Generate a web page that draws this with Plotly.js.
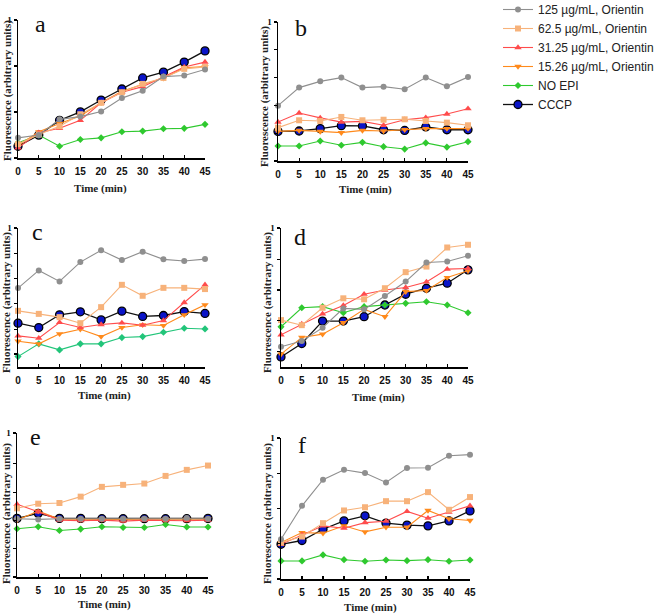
<!DOCTYPE html>
<html>
<head>
<meta charset="utf-8">
<script src="https://cdn.plot.ly/plotly-3.0.1.min.js"></script>
<style>
  html, body { margin: 0; padding: 0; background: #fff; }
  #chart { width: 655px; height: 614px; }
</style>
</head>
<body>
<div id="chart"></div>
<script>
// Sampling times (min)
const time = [0, 5, 10, 15, 20, 25, 30, 35, 40, 45];

// Series labels (legend order)
const seriesNames = ['125 µg/mL, Orientin', '62.5 µg/mL, Orientin', '31.25 µg/mL, Orientin', '15.26 µg/mL, Orientin', 'NO EPI', 'CCCP'];

// Panel a
const a125  = [0.146, 0.166, 0.280, 0.300, 0.337, 0.434, 0.488, 0.590, 0.598, 0.641];
const a62   = [0.100, 0.170, 0.230, 0.317, 0.400, 0.476, 0.537, 0.580, 0.646, 0.659];
const a31   = [0.073, 0.183, 0.215, 0.273, 0.400, 0.476, 0.517, 0.590, 0.659, 0.695];
const a15   = [0.090, 0.190, 0.250, 0.305, 0.400, 0.483, 0.532, 0.578, 0.654, 0.663];
const aNoEpi = [0.110, 0.166, 0.085, 0.134, 0.146, 0.190, 0.195, 0.212, 0.215, 0.244];
const aCccp = [0.085, 0.166, 0.273, 0.334, 0.420, 0.500, 0.580, 0.622, 0.695, 0.776];

// Panel b
const b125  = [0.398, 0.528, 0.573, 0.600, 0.528, 0.535, 0.516, 0.600, 0.537, 0.604];
const b62   = [0.240, 0.293, 0.288, 0.317, 0.293, 0.297, 0.300, 0.288, 0.276, 0.257];
const b31   = [0.280, 0.345, 0.310, 0.280, 0.285, 0.257, 0.297, 0.312, 0.338, 0.376];
const b15   = [0.213, 0.220, 0.213, 0.204, 0.220, 0.216, 0.225, 0.233, 0.233, 0.233];
const bNoEpi = [0.108, 0.108, 0.144, 0.113, 0.134, 0.103, 0.086, 0.130, 0.100, 0.139];
const bCccp = [0.213, 0.216, 0.233, 0.254, 0.252, 0.225, 0.220, 0.245, 0.225, 0.225];

// Panel c
const c125  = [0.561, 0.690, 0.610, 0.751, 0.837, 0.766, 0.827, 0.771, 0.759, 0.773];
const c62   = [0.395, 0.373, 0.349, 0.305, 0.422, 0.585, 0.505, 0.563, 0.563, 0.554];
const c31   = [0.212, 0.195, 0.310, 0.273, 0.295, 0.307, 0.290, 0.324, 0.456, 0.585];
const c15   = [0.173, 0.154, 0.227, 0.261, 0.207, 0.273, 0.293, 0.288, 0.366, 0.439];
const cNoEpi = [0.061, 0.154, 0.110, 0.154, 0.154, 0.200, 0.207, 0.239, 0.268, 0.263];
const cCccp = [0.305, 0.273, 0.366, 0.388, 0.329, 0.393, 0.354, 0.361, 0.390, 0.376];

// Panel d
const d125  = [0.128, 0.170, 0.268, 0.410, 0.403, 0.501, 0.607, 0.747, 0.754, 0.796];
const d62   = [0.324, 0.287, 0.415, 0.484, 0.477, 0.558, 0.676, 0.717, 0.857, 0.877];
const d31   = [0.216, 0.295, 0.369, 0.432, 0.514, 0.545, 0.563, 0.604, 0.698, 0.703];
const d15   = [0.074, 0.197, 0.221, 0.305, 0.403, 0.349, 0.533, 0.541, 0.636, 0.686];
const dNoEpi = [0.275, 0.415, 0.423, 0.378, 0.423, 0.435, 0.447, 0.459, 0.435, 0.378];
const dCccp = [0.054, 0.152, 0.317, 0.317, 0.349, 0.435, 0.514, 0.558, 0.595, 0.693];

// Panel e
const e125  = [0.405, 0.400, 0.405, 0.405, 0.405, 0.405, 0.405, 0.405, 0.409, 0.405];
const e62   = [0.477, 0.509, 0.514, 0.558, 0.626, 0.640, 0.649, 0.702, 0.744, 0.774];
const e31   = [0.505, 0.453, 0.395, 0.391, 0.395, 0.388, 0.395, 0.391, 0.391, 0.395];
const e15   = [0.395, 0.458, 0.402, 0.400, 0.400, 0.400, 0.402, 0.402, 0.402, 0.402];
const eNoEpi = [0.335, 0.349, 0.323, 0.333, 0.349, 0.344, 0.344, 0.365, 0.347, 0.347];
const eCccp = [0.407, 0.442, 0.407, 0.407, 0.405, 0.405, 0.405, 0.405, 0.405, 0.407];

// Panel f
const f125  = [0.282, 0.519, 0.704, 0.775, 0.751, 0.685, 0.787, 0.789, 0.874, 0.882];
const f62   = [0.258, 0.301, 0.396, 0.486, 0.509, 0.552, 0.552, 0.616, 0.491, 0.581];
const f31   = [0.246, 0.313, 0.377, 0.360, 0.400, 0.410, 0.479, 0.431, 0.474, 0.519];
const f15   = [0.258, 0.329, 0.325, 0.377, 0.334, 0.367, 0.367, 0.486, 0.427, 0.415];
const fNoEpi = [0.128, 0.128, 0.171, 0.137, 0.126, 0.135, 0.130, 0.137, 0.126, 0.135];
const fCccp = [0.246, 0.273, 0.353, 0.412, 0.448, 0.396, 0.382, 0.377, 0.412, 0.483];

const panelLetters = ['a', 'b', 'c', 'd', 'e', 'f'];
const panelSeries = [
  [a125, a62, a31, a15, aNoEpi, aCccp],
  [b125, b62, b31, b15, bNoEpi, bCccp],
  [c125, c62, c31, c15, cNoEpi, cCccp],
  [d125, d62, d31, d15, dNoEpi, dCccp],
  [e125, e62, e31, e15, eNoEpi, eCccp],
  [f125, f62, f31, f15, fNoEpi, fCccp]
];

// ---- styling and layout ----
const W = 655, H = 614;
const px = v => v / W;
const py = v => 1 - v / H;

const styles = [
  { color: '#8f8f8f', marker: { symbol: 'circle', size: 6, color: '#8f8f8f' }, width: 1.1 },
  { color: '#f7b27a', marker: { symbol: 'square', size: 6, color: '#f7b27a' }, width: 1.1 },
  { color: '#ff4c4c', marker: { symbol: 'triangle-up', size: 6.5, color: '#ff4c4c' }, width: 1.1 },
  { color: '#ff8a1c', marker: { symbol: 'triangle-down', size: 6.5, color: '#ff8a1c' }, width: 1.1 },
  { color: '#2fc92f', marker: { symbol: 'diamond', size: 5.5, color: '#2fc92f' }, width: 1.1 },
  { color: '#111111', marker: { symbol: 'circle', size: 8, color: '#0a14c8', line: { color: '#000', width: 1.3 } }, width: 1.3 }
];

// pixel frame of each panel: x of t=0, x of t=45, y of value 1, y of axis bottom
const frames = [
  { x0: 18,  x1: 205, top: 20,  bot: 158, lo: 0,      ticks: [0, 1/3, 2/3, 1] },
  { x0: 278, x1: 468, top: 22,  bot: 161, lo: 0,      ticks: [0, 0.2, 0.4, 0.6, 0.8, 1] },
  { x0: 18,  x1: 205, top: 228, bot: 367, lo: -0.015, ticks: [0.08, 0.261, 0.446, 0.629, 0.816, 1] },
  { x0: 281, x1: 468, top: 228, bot: 367, lo: -0.02,  ticks: [0.091, 0.319, 0.545, 0.771, 1] },
  { x0: 17,  x1: 208, top: 433, bot: 577, lo: 0,      ticks: [0, 0.198, 0.391, 0.588, 0.786, 1] },
  { x0: 281, x1: 470, top: 438, bot: 579, lo: 0,      ticks: [0, 0.25, 0.5, 0.75, 1] }
];

const yTitlePos = [[7, 91], [265, 97], [6, 303], [267, 303], [6, 514], [267, 514]];
const xTitlePos = [[100, 188], [365, 189], [104, 396], [378, 397], [104, 604], [370, 607]];
const letterPos = [[40, 24], [301, 28], [37, 232], [300, 237], [35, 437], [302, 445]];

const drawOrder = [5, 4, 3, 2, 1, 0];
const traces = [];
const layout = {
  width: W, height: H,
  margin: { l: 0, r: 0, t: 0, b: 0, autoexpand: false },
  paper_bgcolor: '#fff', plot_bgcolor: 'rgba(0,0,0,0)',
  showlegend: true,
  legend: {
    x: px(498), y: py(-5), xanchor: 'left', yanchor: 'top',
    traceorder: 'reversed',
    bgcolor: 'rgba(0,0,0,0)',
    font: { family: 'Liberation Sans, Arial, sans-serif', size: 12, color: '#222' },
    itemwidth: 30
  },
  annotations: []
};

frames.forEach((fr, p) => {
  const n = p === 0 ? '' : String(p + 1);
  const xa = 'x' + n, ya = 'y' + n;
  drawOrder.forEach(s => {
    const st = styles[s];
    let col = st.color, mk = Object.assign({}, st.marker);
    if (p === 2 && s === 4) { col = '#22c57a'; mk.color = '#22c57a'; }
    traces.push({
      type: 'scatter', mode: 'lines+markers',
      x: time, y: panelSeries[p][s],
      xaxis: xa, yaxis: ya,
      name: seriesNames[s],
      showlegend: p === 0,
      line: { color: col, width: st.width },
      marker: mk,
      cliponaxis: false
    });
  });
  layout['xaxis' + n] = {
    domain: [px(fr.x0), px(fr.x1)], anchor: ya,
    range: [0, 45], tickvals: time, ticktext: time.map(String),
    showline: true, linecolor: '#000', linewidth: 1.5,
    ticks: 'inside', ticklen: 3, tickwidth: 1.2, tickcolor: '#000',
    showgrid: false, zeroline: false,
    ticklabelstandoff: 3,
    tickfont: { family: 'Liberation Sans, Arial, sans-serif', size: 10, weight: 700, color: '#111' }
  };
  layout['yaxis' + n] = {
    domain: [py(fr.bot), py(fr.top)], anchor: xa,
    range: [fr.lo, 1], tickvals: fr.ticks,
    ticktext: fr.ticks.map(v => v === 1 ? '1' : ''),
    showline: true, linecolor: '#000', linewidth: 1.5,
    ticks: 'outside', ticklen: 3, tickwidth: 1.2, tickcolor: '#000',
    showgrid: false, zeroline: false,
    tickfont: { family: 'Liberation Serif, Times New Roman, serif', size: 9, weight: 700, color: '#111' }
  };
  layout.annotations.push({
    text: 'Fluorescence (arbitrary units)', textangle: -90,
    xref: 'paper', yref: 'paper', x: px(yTitlePos[p][0]), y: py(yTitlePos[p][1]),
    xanchor: 'center', yanchor: 'middle', showarrow: false,
    font: { family: 'Liberation Serif, Times New Roman, serif', size: 11, weight: 700, color: '#222' }
  });
  layout.annotations.push({
    text: 'Time (min)',
    xref: 'paper', yref: 'paper', x: px(xTitlePos[p][0]), y: py(xTitlePos[p][1]),
    xanchor: 'center', yanchor: 'middle', showarrow: false,
    font: { family: 'Liberation Serif, Times New Roman, serif', size: 11, weight: 700, color: '#222' }
  });
  layout.annotations.push({
    text: panelLetters[p],
    xref: 'paper', yref: 'paper', x: px(letterPos[p][0]), y: py(letterPos[p][1]),
    xanchor: 'center', yanchor: 'middle', showarrow: false,
    font: { family: 'Liberation Serif, Times New Roman, serif', size: 24, color: '#111' }
  });
});

Plotly.newPlot('chart', traces, layout, { displayModeBar: false, staticPlot: true });
</script>
</body>
</html>
